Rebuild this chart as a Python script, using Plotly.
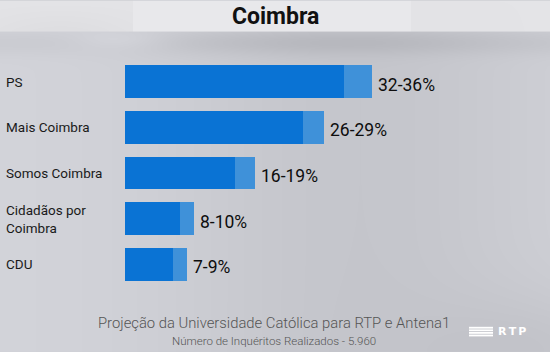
import base64, struct, zlib, math
import plotly.graph_objects as go

# ---- data ----
parties = ["PS", "Mais Coimbra", "Somos Coimbra", "Cidadãos por<br>Coimbra", "CDU"]
low = [32, 26, 16, 8, 7]
high = [36, 29, 19, 10, 9]
range_labels = ["32-36%", "26-29%", "16-19%", "8-10%", "7-9%"]

W, H = 550, 352
ML, MR, MT, MB = 125, 0, 58.5, 65
PW, PH = W - ML - MR, H - MT - MB
PX_PER_UNIT = 6.85

# ---- background image (gray gradient) ----
def make_png(w, h):
    rows = []
    for y in range(h):
        row = bytearray([0])
        for x in range(w):
            if y < 31:
                v = 228 - 6 * math.exp(-((x - 60) / 80) ** 2) * (y / 31)
                if 133 <= x <= 410:
                    v = 232
                r, g, b = v, v, v + 3
            else:
                v = 213 - 14 * math.exp(-((x - 360) / 200) ** 2)
                v -= 14 * math.exp(-((y - 42) / 12) ** 2) * (0.5 + 0.5 * math.exp(-((x - 330) / 160) ** 2))
                v += 10 * math.exp(-((y - 40) / 10) ** 2) * math.exp(-((x - 120) / 50) ** 2)
                v -= 10 * math.exp(-((y - 352) / 60) ** 2) * math.exp(-((x - 550) / 120) ** 2)
                r, g, b = v - 2, v - 1, v + 5
            row += bytes([max(0, min(255, int(r))), max(0, min(255, int(g))), max(0, min(255, int(b)))])
        rows.append(bytes(row))
    raw = b"".join(rows)
    def chunk(t, d):
        c = struct.pack(">I", len(d)) + t + d
        return c + struct.pack(">I", zlib.crc32(t + d) & 0xffffffff)
    png = b"\x89PNG\r\n\x1a\n" + chunk(b"IHDR", struct.pack(">IIBBBBB", w, h, 8, 2, 0, 0, 0))
    png += chunk(b"IDAT", zlib.compress(raw, 9)) + chunk(b"IEND", b"")
    return "data:image/png;base64," + base64.b64encode(png).decode()

def px(x):  # pixel x -> paper
    return (x - ML) / PW

def py(y):  # pixel y -> paper
    return (H - MB - y) / PH

fig = go.Figure()
fig.add_trace(go.Bar(y=parties, x=low, orientation="h", marker=dict(color="#0a73d4", line=dict(width=0)),
                     hoverinfo="skip"))
fig.add_trace(go.Bar(y=parties, x=[h - l for h, l in zip(high, low)], base=low, orientation="h",
                     marker=dict(color="#3f91d9", line=dict(width=0)), hoverinfo="skip"))

annotations = []
for p, h, t in zip(parties, high, range_labels):
    annotations.append(dict(x=h, y=p, xref="x", yref="y", text=t, showarrow=False, xanchor="left",
                            yanchor="middle", xshift=4, yshift=-3,
                            font=dict(family="Roboto", size=17.5, color="#0d0d0d")))
    annotations.append(dict(x=px(4), y=p, xref="paper", yref="y", text=p, showarrow=False, xanchor="left",
                            yanchor="middle", align="left",
                            font=dict(family="Roboto", size=13.5, color="#1a1a1a")))

annotations += [
    dict(x=px(275), y=py(16), xref="paper", yref="paper", text="<b>Coimbra</b>", showarrow=False,
         xanchor="center", yanchor="middle", font=dict(family="Roboto", size=23, color="#111111")),
    dict(x=px(274), y=py(323), xref="paper", yref="paper",
         text="Projeção da Universidade Católica para RTP e Antena1", showarrow=False,
         xanchor="center", yanchor="middle", font=dict(family="Roboto", size=14.8, color="#555555", weight=300)),
    dict(x=px(274), y=py(341), xref="paper", yref="paper",
         text="Número de Inquéritos Realizados - 5.960", showarrow=False,
         xanchor="center", yanchor="middle", font=dict(family="Roboto", size=11.5, color="#555555", weight=300)),
    dict(x=px(496), y=py(332), xref="paper", yref="paper", text="<b>R\u2009T\u2009P</b>", showarrow=False,
         xanchor="left", yanchor="middle", font=dict(family="DejaVu Sans", size=11, color="#ffffff")),
]

shapes = []
for i in range(4):
    yy = 327.8 + i * 2.6
    shapes.append(dict(type="line", xref="paper", yref="paper", x0=px(469), x1=px(493),
                       y0=py(yy), y1=py(yy), line=dict(color="#ffffff", width=1.8)))

fig.update_layout(
    width=W, height=H,
    margin=dict(l=ML, r=MR, t=MT, b=MB),
    barmode="stack", bargap=1 - 33 / 46,
    showlegend=False,
    paper_bgcolor="#cbccd2", plot_bgcolor="rgba(0,0,0,0)",
    xaxis=dict(range=[0, PW / PX_PER_UNIT], visible=False, fixedrange=True),
    yaxis=dict(autorange="reversed", visible=False, fixedrange=True),
    annotations=annotations, shapes=shapes,
    images=[dict(source=make_png(W, H), xref="paper", yref="paper", x=px(0), y=py(0),
                 sizex=W / PW, sizey=H / PH, sizing="stretch", layer="below",
                 xanchor="left", yanchor="top")],
)

fig.write_html("out.html")
